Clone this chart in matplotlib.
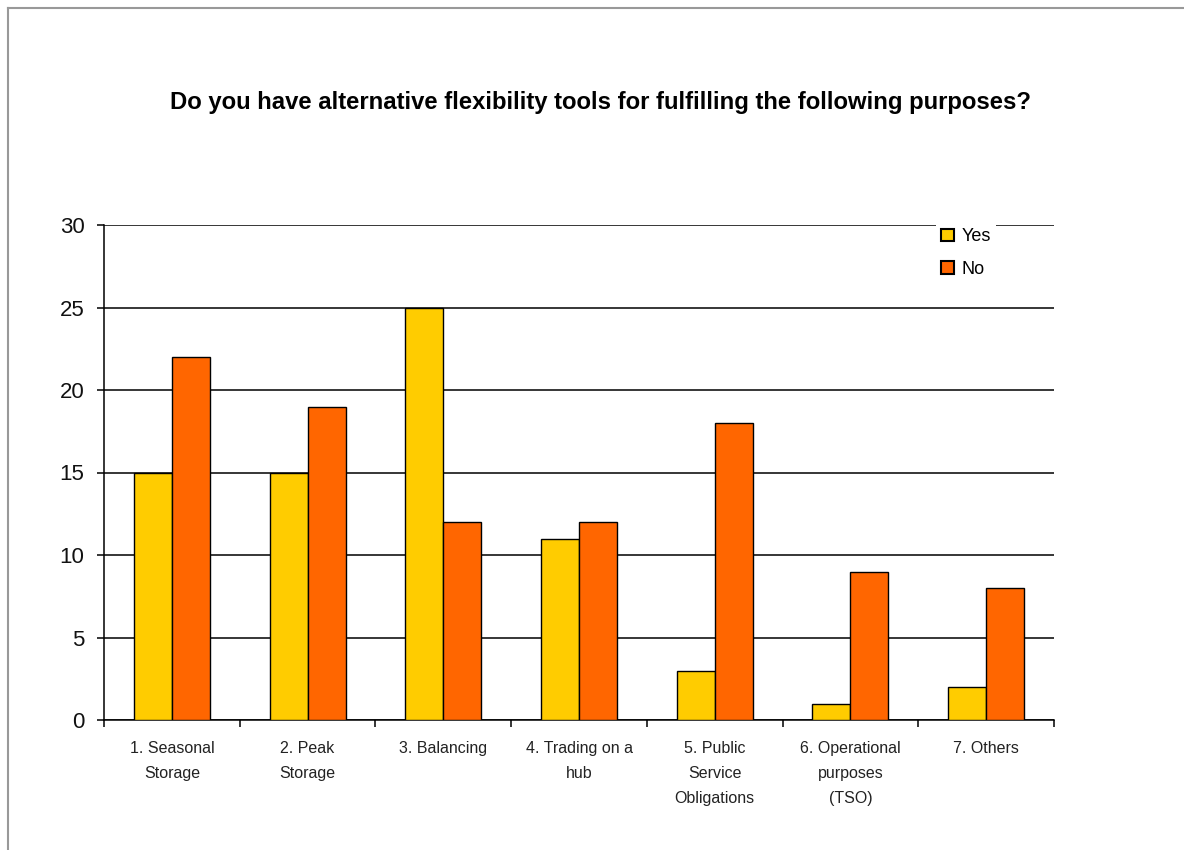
import matplotlib
matplotlib.use("Agg")
import matplotlib.pyplot as plt
from matplotlib.lines import Line2D
import numpy as np

plt.rcParams['font.family'] = ['Liberation Sans', 'DejaVu Sans']

categories = [
    "1. Seasonal\nStorage",
    "2. Peak\nStorage",
    "3. Balancing",
    "4. Trading on a\nhub",
    "5. Public\nService\nObligations",
    "6. Operational\npurposes\n(TSO)",
    "7. Others",
]
yes_values = [15, 15, 25, 11, 3, 1, 2]
no_values = [22, 19, 12, 12, 18, 9, 8]
series_names = ["Yes", "No"]
yticks = [0, 5, 10, 15, 20, 25, 30]
title = "Do you have alternative flexibility tools for fulfilling the following purposes?"

YELLOW = "#FFCC00"
ORANGE = "#FF6600"

fig = plt.figure(figsize=(11.84, 8.5), dpi=100)
ax = fig.add_axes([104 / 1184, 1 - 720 / 850, 950 / 1184, 495 / 850])

# thin grey frame on the top and left edges of the canvas
fig.add_artist(Line2D([7.5 / 1184, 1.0], [1 - 7.5 / 850, 1 - 7.5 / 850],
                      transform=fig.transFigure, color="#999999", lw=1.5))
fig.add_artist(Line2D([7.5 / 1184, 7.5 / 1184], [0.0, 1 - 7.5 / 850],
                      transform=fig.transFigure, color="#999999", lw=1.5))

x = np.arange(len(categories))
w = 0.28
ax.bar(x - w / 2, yes_values, w, color=YELLOW, edgecolor="black", lw=1.0,
       label=series_names[0], zorder=3)
ax.bar(x + w / 2, no_values, w, color=ORANGE, edgecolor="black", lw=1.0,
       label=series_names[1], zorder=3)

ax.set_xlim(-0.5, len(categories) - 0.5)
ax.set_ylim(0, 30)
ax.set_yticks(yticks)
ax.set_yticklabels([str(v) for v in yticks], fontsize=16, color="#111111")
ax.yaxis.grid(True, color="black", lw=1.1, zorder=0)
ax.set_axisbelow(True)

# category labels at centres, tick marks at the category boundaries
ax.set_xticks(x)
ax.set_xticklabels(categories, fontsize=11.5, color="#222222", linespacing=1.85,
                   va="top")
ax.set_xticks(np.arange(-0.5, len(categories)), minor=True)
ax.tick_params(axis="x", which="major", length=0, pad=15)
ax.tick_params(axis="x", which="minor", length=5, width=1.1, direction="out",
               color="black")
ax.tick_params(axis="y", length=5, width=1.1, direction="out", pad=9,
               color="black")

for side in ["top", "right"]:
    ax.spines[side].set_visible(False)
for side in ["left", "bottom"]:
    ax.spines[side].set_color("black")
    ax.spines[side].set_linewidth(1.1)

leg = ax.legend(loc="upper left", bbox_to_anchor=(936 / 1184, 1 - 223 / 850),
                bbox_transform=fig.transFigure, frameon=True, fancybox=False,
                edgecolor="none", facecolor="white", framealpha=1.0,
                fontsize=13, handlelength=0.7, handleheight=0.7,
                handletextpad=0.4, labelspacing=0.85, borderpad=0.3,
                borderaxespad=0)
leg.set_zorder(5)
for h in leg.legend_handles:
    h.set_linewidth(1.5)

fig.text(600 / 1184, 1 - 103 / 850, title, ha="center", va="center",
         fontsize=17.2, fontweight="bold", color="black")

fig.savefig("out.png", dpi=100, facecolor="white")
